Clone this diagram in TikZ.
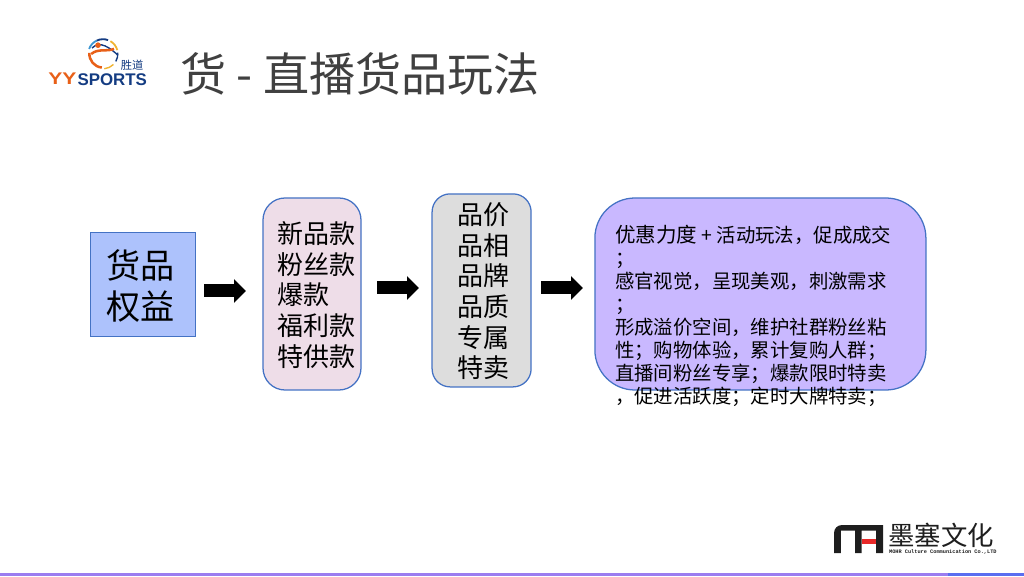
\documentclass[tikz,border=0pt]{standalone}
\usepackage{fontspec}
\setmainfont{Noto Sans CJK SC}
\setmonofont{Liberation Mono}
\newfontfamily\logofont{Liberation Sans}
\usepackage{xcolor}
\usetikzlibrary{arrows.meta, positioning}
\definecolor{goodsblue}{RGB}{173, 194, 252}
\definecolor{edgeblue}{RGB}{68, 114, 196}
\definecolor{goodspink}{RGB}{238, 221, 232}
\definecolor{goodsgray}{RGB}{221, 221, 221}
\definecolor{goodsviolet}{RGB}{201, 184, 255}
\definecolor{titlegray}{RGB}{64, 64, 64}
\definecolor{logoorange}{RGB}{232, 96, 24}
\definecolor{logoblue}{RGB}{20, 60, 130}
\definecolor{logoyellow}{RGB}{240, 180, 50}
\definecolor{logosky}{RGB}{60, 150, 210}
\definecolor{barviolet}{RGB}{155, 125, 240}
\definecolor{barblue}{RGB}{90, 110, 240}
\definecolor{markblack}{RGB}{30, 30, 30}
\definecolor{markred}{RGB}{232, 40, 40}
\tikzset{
  goodsbox/.style={rectangle, draw=edgeblue, line width=0.9pt, inner sep=0pt, align=center},
  boxtext/.style={inner sep=0pt, align=left, font=\fontsize{18.5}{21.8}\selectfont},
  pushblock/.style={-{Triangle[length=0.3cm, width=0.575cm]}, line width=0.325cm, color=black},
}
\begin{document}
\begin{tikzpicture}
        \useasboundingbox (0, 0) rectangle (25.6, 14.4);
        % bottom bar
        \fill[barviolet] (0, 0) rectangle (23.7, 0.07);
        \fill[barblue] (23.7, 0) rectangle (25.6, 0.07);

        % logo
        \draw[logosky, line width=1.3pt] (2.575, 13.05) ++(160:0.37) arc (160:115:0.37);
        \draw[logoblue, line width=1.3pt] (2.575, 13.05) ++(115:0.37) arc (115:70:0.37);
        \draw[logoyellow, line width=1.3pt] (2.575, 13.05) ++(60:0.37) arc (60:15:0.37);
        \draw[logoblue, line width=1pt] (2.575, 13.05) ++(5:0.37) arc (5:-30:0.37);
        \draw[logoyellow, line width=1pt] (2.575, 13.05) ++(-45:0.37) arc (-45:-85:0.37);
        \draw[logoorange, line width=1.8pt] (2.575, 13.05) ++(175:0.34) arc (175:265:0.34);
        \draw[logoblue, line width=1pt] (2.3, 13.2) .. controls (2.5, 13.4) and (2.75, 13.2) .. (2.95, 13.02);
        \draw[logoorange, line width=1.8pt] (2.28, 13.05) .. controls (2.45, 13.2) and (2.7, 13.1) .. (2.85, 13.18);
        \fill[logoorange] (2.45, 13.27) circle (0.07);
        \node[inner sep=0pt, text=logoblue, font=\fontsize{8}{8}\selectfont] (brandcn) at (3.3, 12.76) {胜道};
        \node[inner sep=0pt, anchor=west, text=logoorange, xscale=1.25, font=\logofont\bfseries\fontsize{12}{12}\selectfont] (brandyy) at (1.2, 12.42) {YY};
        \node[inner sep=0pt, anchor=east, text=logoblue, font=\logofont\bfseries\fontsize{12}{12}\selectfont] (brandsports) at (3.68, 12.42) {SPORTS};

        % title
        \node[anchor=west, inner sep=0pt, text=titlegray, font=\fontsize{32.8}{38}\selectfont] (title) at (4.5, 12.55) {货 - 直播货品玩法};

        % boxes
        \node[goodsbox, fill=goodsblue, minimum width=2.62cm, minimum height=2.6cm] (quanyi) at (3.575, 7.29) {};
        \node[boxtext, anchor=center, align=center, font=\fontsize{24.3}{29.2}\selectfont] (quanyitext) at (3.51, 7.24) {货品\\权益};
        \node[goodsbox, fill=goodspink, rounded corners=0.55cm, minimum width=2.45cm, minimum height=4.8cm] (kuan) at (7.8, 7.05) {};
        \node[boxtext, anchor=west] (kuantext) at (6.925, 7.03) {新品款\\粉丝款\\爆款\\福利款\\特供款};
        \node[goodsbox, fill=goodsgray, rounded corners=0.45cm, minimum width=2.475cm, minimum height=4.825cm] (pinxiang) at (12.04, 7.14) {};
        \node[boxtext, anchor=center] (pinxiangtext) at (12.08, 7.12) {品价\\品相\\品牌\\品质\\专属\\特卖};
        \node[goodsbox, fill=goodsviolet, rounded corners=1cm, minimum width=8.275cm, minimum height=4.8cm] (xiaoguo) at (19.01, 7.05) {};
        \node[inner sep=0pt, anchor=north west, align=left, font=\fontsize{13.8}{16.35}\selectfont] (xiaoguotext) at (15.37, 8.77) {{\fontsize{14.6}{16.35}\selectfont 优惠力度} + 活动玩法，促成成交\\；\\感官视觉，呈现美观，刺激需求\\；\\形成溢价空间，维护社群粉丝粘\\性；购物体验，累计复购人群；\\直播间粉丝专享；爆款限时特卖\\，促进活跃度；定时大牌特卖；};

        % arrows
        \coordinate (firststart) at (5.1, 7.125);
        \coordinate (firstend) at (6.15, 7.125);
        \coordinate (secondstart) at (9.425, 7.2);
        \coordinate (secondend) at (10.475, 7.2);
        \coordinate (thirdstart) at (13.525, 7.2);
        \coordinate (thirdend) at (14.575, 7.2);
        \draw[pushblock] (firststart) -- (firstend);
        \draw[pushblock] (secondstart) -- (secondend);
        \draw[pushblock] (thirdstart) -- (thirdend);

        % company mark
        \fill[markblack] (20.85, 0.575) -- (20.85, 1.075) arc (180:90:0.2) -- (22.08, 1.275) -- (22.08, 0.575) -- (21.9, 0.575)
             -- (21.9, 1.135) -- (21.54, 1.135) -- (21.54, 0.575) -- (21.375, 0.575) -- (21.375, 1.135) -- (21.02, 1.135) -- (21.02, 0.575) -- cycle;
        \fill[markred] (21.54, 0.8) rectangle (21.9, 0.915);
        \node[anchor=west, inner sep=0pt, text=markblack, font=\fontsize{18.8}{20}\selectfont] (markname) at (22.2, 1.01) {墨塞文化};
        \node[anchor=west, inner sep=0pt, text=markblack, font=\ttfamily\bfseries\fontsize{3.75}{4}\selectfont] (markline) at (22.22, 0.6) {MOHR Culture Communication Co.,LTD};
      \end{tikzpicture}
\end{document}
